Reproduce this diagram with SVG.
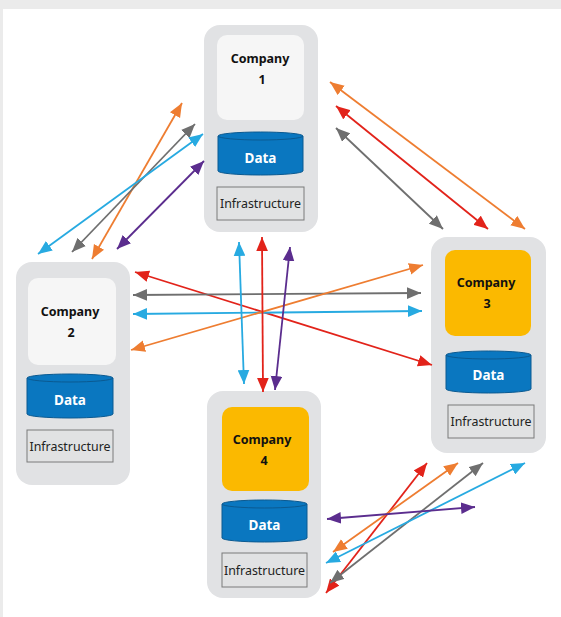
<svg xmlns="http://www.w3.org/2000/svg" width="561" height="617" viewBox="0 0 561 617">
<style>
.outer{fill:#e1e2e4}
.inw{fill:#f6f6f6}
.ino{fill:#fbb900}
.cyl{fill:#0a77c0;stroke:#0b5a91;stroke-width:1}
.infra{fill:#e1e2e3;stroke:#7a7a7a;stroke-width:1}
.co{font-family:"Noto Sans",sans-serif;font-weight:bold;font-size:12.5px;fill:#111;text-anchor:middle}
.dt{font-family:"Noto Sans",sans-serif;font-weight:bold;font-size:13.5px;fill:#fff;text-anchor:middle}
.it{font-family:"Noto Sans",sans-serif;font-size:12.4px;fill:#222;text-anchor:middle}
.c line{stroke-width:1.8;fill:none}
.or{stroke:#ee7d31;marker-start:url(#mo);marker-end:url(#mo)}
.gr{stroke:#6f6f6f;marker-start:url(#mg);marker-end:url(#mg)}
.bl{stroke:#27aae1;marker-start:url(#mb);marker-end:url(#mb)}
.pu{stroke:#5b2d8e;marker-start:url(#mp);marker-end:url(#mp)}
.rd{stroke:#e2231a;marker-start:url(#mr);marker-end:url(#mr)}
</style>
<defs>
<marker id="mo" viewBox="0 0 12 10" refX="12" refY="5" markerUnits="userSpaceOnUse" markerWidth="14" markerHeight="12" orient="auto-start-reverse"><path d="M0,0 L12,5 L0,10 z" fill="#ee7d31"/></marker>
<marker id="mg" viewBox="0 0 12 10" refX="12" refY="5" markerUnits="userSpaceOnUse" markerWidth="14" markerHeight="12" orient="auto-start-reverse"><path d="M0,0 L12,5 L0,10 z" fill="#6f6f6f"/></marker>
<marker id="mb" viewBox="0 0 12 10" refX="12" refY="5" markerUnits="userSpaceOnUse" markerWidth="14" markerHeight="12" orient="auto-start-reverse"><path d="M0,0 L12,5 L0,10 z" fill="#27aae1"/></marker>
<marker id="mp" viewBox="0 0 12 10" refX="12" refY="5" markerUnits="userSpaceOnUse" markerWidth="14" markerHeight="12" orient="auto-start-reverse"><path d="M0,0 L12,5 L0,10 z" fill="#5b2d8e"/></marker>
<marker id="mr" viewBox="0 0 12 10" refX="12" refY="5" markerUnits="userSpaceOnUse" markerWidth="14" markerHeight="12" orient="auto-start-reverse"><path d="M0,0 L12,5 L0,10 z" fill="#e2231a"/></marker>
</defs>
<rect x="0" y="0" width="561" height="617" fill="#ebebeb"/>
<rect x="3" y="9" width="558" height="608" fill="#ffffff"/>

<g id="company1">
<rect class="outer" x="204" y="25" width="114" height="207" rx="16"/>
<rect class="inw" x="217" y="35" width="87" height="85" rx="10"/>
<path class="cyl" d="M218,136 L218,171 A42.5,4 0 0 0 303,171 L303,136"/>
<ellipse class="cyl" cx="260.5" cy="136" rx="42.5" ry="4"/>
<text class="dt" x="260.5" y="163">Data</text>
<rect class="infra" x="217" y="187" width="87" height="33"/>
<text class="it" x="260.5" y="208">Infrastructure</text>
<text class="co" x="260" y="63">Company</text>
<text class="co" x="262" y="84">1</text>
</g>

<g id="company2">
<rect class="outer" x="16" y="262" width="114" height="223" rx="16"/>
<rect class="inw" x="28" y="278" width="88" height="87" rx="10"/>
<path class="cyl" d="M27,378 L27,414 A43,4 0 0 0 113,414 L113,378"/>
<ellipse class="cyl" cx="70" cy="378" rx="43" ry="4"/>
<text class="dt" x="70" y="405">Data</text>
<rect class="infra" x="27" y="430" width="86" height="32"/>
<text class="it" x="70" y="451">Infrastructure</text>
<text class="co" x="70" y="316">Company</text>
<text class="co" x="71" y="337">2</text>
</g>

<g id="company3">
<rect class="outer" x="431" y="237" width="115" height="216" rx="16"/>
<rect class="ino" x="445" y="250" width="86" height="86" rx="10"/>
<path class="cyl" d="M446,355 L446,389 A42.5,4 0 0 0 531,389 L531,355"/>
<ellipse class="cyl" cx="488.5" cy="355" rx="42.5" ry="4"/>
<text class="dt" x="488.5" y="380">Data</text>
<rect class="infra" x="448" y="405" width="86" height="33"/>
<text class="it" x="491" y="426">Infrastructure</text>
<text class="co" x="486" y="287">Company</text>
<text class="co" x="487" y="308">3</text>
</g>

<g id="company4">
<rect class="outer" x="207" y="391" width="114" height="207" rx="16"/>
<rect class="ino" x="222" y="407" width="87" height="84" rx="10"/>
<path class="cyl" d="M222,504 L222,538 A42.5,4 0 0 0 307,538 L307,504"/>
<ellipse class="cyl" cx="264.5" cy="504" rx="42.5" ry="4"/>
<text class="dt" x="264.5" y="530">Data</text>
<rect class="infra" x="222" y="553" width="85" height="34"/>
<text class="it" x="264.5" y="575">Infrastructure</text>
<text class="co" x="262" y="444">Company</text>
<text class="co" x="264" y="465">4</text>
</g>

<g id="connectors" class="c">
<line class="or" x1="92" y1="259" x2="182" y2="103"/>
<line class="gr" x1="72" y1="252" x2="195" y2="124"/>
<line class="bl" x1="38" y1="254" x2="203" y2="134"/>
<line class="pu" x1="117" y1="249" x2="204" y2="161"/>

<line class="or" x1="330" y1="82" x2="525" y2="229"/>
<line class="rd" x1="336" y1="106" x2="488" y2="229"/>
<line class="gr" x1="336" y1="128" x2="443" y2="229"/>

<line class="rd" x1="135" y1="272" x2="432" y2="365"/>
<line class="gr" x1="133" y1="295" x2="421" y2="293"/>
<line class="bl" x1="133" y1="314" x2="422" y2="311"/>
<line class="or" x1="131" y1="350" x2="423" y2="265"/>
<line class="bl" x1="239" y1="242" x2="244" y2="384"/>
<line class="rd" x1="262" y1="237" x2="263" y2="392"/>
<line class="pu" x1="290" y1="247" x2="275" y2="390"/>

<line class="rd" x1="427" y1="463" x2="326" y2="593"/>
<line class="or" x1="458" y1="463" x2="333" y2="552"/>
<line class="gr" x1="483" y1="463" x2="330" y2="583"/>
<line class="bl" x1="525" y1="463" x2="326" y2="563"/>
<line class="pu" x1="327" y1="519" x2="475" y2="507"/>
</g>
</svg>
